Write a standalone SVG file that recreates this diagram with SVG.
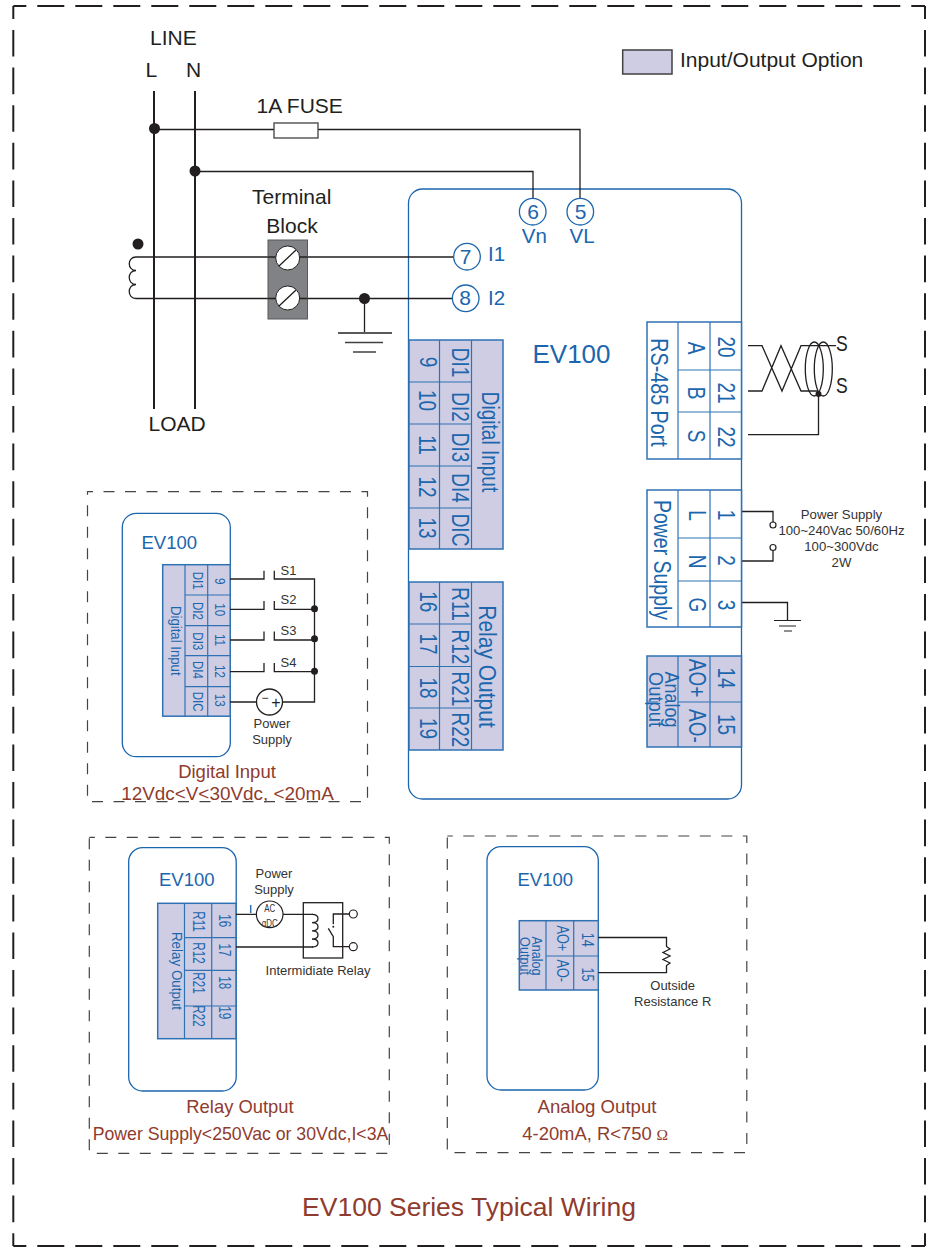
<svg xmlns="http://www.w3.org/2000/svg" width="927" height="1247" viewBox="0 0 927 1247">
<style>
text{font-family:"Liberation Sans",Arial,sans-serif}
.k{fill:#231f20}.g{fill:#333}.b{fill:#1b66ad}.r{fill:#8f3b2e}
.m{text-anchor:middle}
.w{fill:none;stroke:#231f20;stroke-width:1.3}
.t{fill:none;stroke:#231f20;stroke-width:2}
.dot{fill:#231f20}
.dash{fill:none;stroke:#444;stroke-width:1.2;stroke-dasharray:11 10.5;stroke-dashoffset:5.5}
.fh{fill:none;stroke:#231f20;stroke-width:2;stroke-dasharray:27 11;stroke-dashoffset:14}
.fv{fill:none;stroke:#231f20;stroke-width:2;stroke-dasharray:26.6 11;stroke-dashoffset:13.6}
.body{fill:#fff;stroke:#1b66ad;stroke-width:1.3}
.cell{fill:#cfcde4;stroke:#2f72b4;stroke-width:1.5}
.cw{fill:#fff;stroke:#2f72b4;stroke-width:1.5}
.grid{fill:none;stroke:#2f72b4;stroke-width:1.2}
.pin{fill:#fff;stroke:#1b66ad;stroke-width:1.3}
.f21{font-size:21px}.f19{font-size:19px}.f13{font-size:13px}.f18{font-size:18.4px}.f11{font-size:11.6px}
</style>
<rect width="927" height="1247" fill="#fff"/>
<g id="frame">
<path class="fh" d="M13.300 6H925M13.300 1246H925"/>
<path class="fv" d="M13.300 6V1246M925 6V1246"/>
</g>

<g id="legend">
<rect x="622.700" y="50" width="49.300" height="24" fill="#cfcde4" stroke="#414042" stroke-width="1.500"/>
<text x="680" y="66.700" class="k f21">Input/Output Option</text>
</g>

<g id="line-labels" class="k f21">
<text x="150" y="45">LINE</text>
<text x="145.500" y="76.700">L</text>
<text x="186" y="76.700">N</text>
<text x="256.500" y="112.700">1A FUSE</text>
<text x="291.700" y="204" class="m">Terminal</text>
<text x="292" y="232.700" class="m">Block</text>
<text x="148.500" y="430.700">LOAD</text>
</g>

<g id="main-body">
<rect x="408.500" y="189" width="333" height="610" rx="14" class="body"/>
<text x="571.500" y="362.700" class="b m" font-size="26">EV100</text>
<g class="b" font-size="20.500">
<text x="534.300" y="242.700" class="m">Vn</text>
<text x="582" y="242.700" class="m">VL</text>
<text x="488" y="261">I1</text>
<text x="488" y="305">I2</text>
</g>
</g>

<g id="connectors">
<path class="t" d="M154 91V409M195 91V409"/>
<path class="w" d="M154 129.500H580V198M195 171.500H533V198M136 257H454M136 298.500H452M364.500 298.500V333"/>
<path class="w" d="M136 257C127 257 127 270.500 136 270.500C127 270.500 127 284.500 136 284.500C127 284.500 127 298.500 136 298.500"/>
<path class="w" d="M748 345.700H762L782 391L801 345.700H836M748 391H762L781 345.700L801 391H818"/>
<path class="w" d="M818.500 394V434.700H748"/>
<path class="w" d="M741.500 511.500H773V522M741.500 561H773V551M741.500 602.500H787.500V620"/>
</g>

<g id="fuse"><rect x="274" y="123" width="44" height="15" fill="#fff" stroke="#414042" stroke-width="1.300"/></g>
<g id="junctions">
<circle cx="154.500" cy="128.500" r="5.500" class="dot"/>
<circle cx="195" cy="171" r="5.500" class="dot"/>
<circle cx="138" cy="244" r="5.500" class="dot"/>
<circle cx="364.500" cy="298.500" r="5.500" class="dot"/>
</g>

<g id="terminal-block">
<rect x="268" y="240" width="39.500" height="79" fill="#808285" stroke="#58595b" stroke-width="1"/>
<path class="w" d="M268 257H276M300 257H307.500M268 298.500H276M300 298.500H307.500"/>
<circle cx="287.700" cy="258" r="12" fill="#fff" stroke="#231f20" stroke-width="1"/>
<circle cx="287.700" cy="298" r="12" fill="#fff" stroke="#231f20" stroke-width="1"/>
<path class="w" d="M279 266L296 250M279 306L296 290"/>
</g>

<g id="ground-ct">
<path d="M338 333H392" stroke="#58595b" stroke-width="2" fill="none"/>
<path d="M345 342.500H383M353 352H376" stroke="#414042" stroke-width="1.300" fill="none"/>
</g>

<g id="pins" class="b f21">
<circle cx="532.700" cy="211.700" r="13.300" class="pin"/><text x="533" y="218.700" class="m">6</text>
<circle cx="580.300" cy="211.700" r="13.300" class="pin"/><text x="580.500" y="218.700" class="m">5</text>
<circle cx="467" cy="256.700" r="13.300" class="pin"/><text x="465.700" y="263.500" class="m">7</text>
<circle cx="465.700" cy="298.300" r="13.300" class="pin"/><text x="465" y="305" class="m">8</text>
</g>

<g id="digital-input-block">
<rect x="409" y="340" width="94" height="209" class="cell"/>
<path class="grid" d="M439.500 340V549M471.500 340V549M409 382H471.500M409 424H471.500M409 466H471.500M409 508H471.500"/>
<g class="b f19 m">
<text transform="translate(420,362) rotate(90) scale(1,1.220)">9</text>
<text transform="translate(418.500,400.500) rotate(90) scale(1,1.220)">10</text>
<text transform="translate(418.500,445) rotate(90) scale(1,1.220)">11</text>
<text transform="translate(418.500,487) rotate(90) scale(1,1.220)">12</text>
<text transform="translate(418.500,528) rotate(90) scale(1,1.220)">13</text>
<text transform="translate(451.700,362.500) rotate(90) scale(1,1.220)">DI1</text>
<text transform="translate(451.700,407) rotate(90) scale(1,1.220)">DI2</text>
<text transform="translate(451.700,447.500) rotate(90) scale(1,1.220)">DI3</text>
<text transform="translate(451.700,488) rotate(90) scale(1,1.220)">DI4</text>
<text transform="translate(451.700,530) rotate(90) scale(1,1.220)">DIC</text>
<text transform="translate(482.300,442) rotate(90) scale(1,1.220)">Digital Input</text>
</g>
</g>

<g id="relay-block">
<rect x="409" y="582" width="94" height="168" class="cell"/>
<path class="grid" d="M439.500 582V750M471.500 582V750M409 624H471.500M409 666.500H471.500M409 708H471.500"/>
<g class="b f19 m">
<text transform="translate(420,601.700) rotate(90) scale(1,1.220)">16</text>
<text transform="translate(420,644) rotate(90) scale(1,1.220)">17</text>
<text transform="translate(420,688) rotate(90) scale(1,1.220)">18</text>
<text transform="translate(420,728.500) rotate(90) scale(1,1.220)">19</text>
<text transform="translate(451.700,604) rotate(90) scale(1,1.220)">R11</text>
<text transform="translate(451.700,647) rotate(90) scale(1,1.220)">R12</text>
<text transform="translate(451.700,689) rotate(90) scale(1,1.220)">R21</text>
<text transform="translate(451.700,730) rotate(90) scale(1,1.220)">R22</text>
<text transform="translate(479.300,666.500) rotate(90) scale(1,1.150)" font-size="21">Relay Output</text>
</g>
</g>

<g id="rs485-block">
<rect x="647" y="322" width="94.500" height="137" class="cw"/>
<path class="grid" d="M678 322V459M710 322V459M678 370H741.500M678 412H741.500"/>
<g class="b f19 m">
<text transform="translate(718.300,347) rotate(90) scale(1,1.220)">20</text>
<text transform="translate(718.300,393) rotate(90) scale(1,1.220)">21</text>
<text transform="translate(718.300,437) rotate(90) scale(1,1.220)">22</text>
<text transform="translate(688.300,348) rotate(90) scale(1,1.220)">A</text>
<text transform="translate(688.300,393) rotate(90) scale(1,1.220)">B</text>
<text transform="translate(688.300,436) rotate(90) scale(1,1.220)">S</text>
<text transform="translate(650.700,392.500) rotate(90) scale(1,1.180)" font-size="19.700">RS-485 Port</text>
</g>
</g>

<g id="rs485-cable">
<ellipse cx="814.300" cy="369" rx="9" ry="27" fill="none" stroke="#231f20" stroke-width="1.300"/>
<ellipse cx="823.300" cy="369" rx="9" ry="27" fill="none" stroke="#231f20" stroke-width="1.300"/>
<circle cx="818.500" cy="394" r="3" class="dot"/>
<text transform="translate(836,350.700) scale(.78,1)" class="k" font-size="22.500">S</text>
<text transform="translate(836,393.300) scale(.78,1)" class="k" font-size="22.500">S</text>
</g>

<g id="power-block">
<rect x="647" y="490" width="94.500" height="137" class="cw"/>
<path class="grid" d="M678 490V627M710 490V627M678 538H741.500M678 581H741.500"/>
<g class="b f19 m">
<text transform="translate(718.300,515) rotate(90) scale(1,1.220)">1</text>
<text transform="translate(718.300,560.500) rotate(90) scale(1,1.220)">2</text>
<text transform="translate(718.300,605) rotate(90) scale(1,1.220)">3</text>
<text transform="translate(689,515.500) rotate(90) scale(1,1.220)">L</text>
<text transform="translate(689,561.500) rotate(90) scale(1,1.220)">N</text>
<text transform="translate(689,605) rotate(90) scale(1,1.220)">G</text>
<text transform="translate(654,560) rotate(90) scale(1,1.180)" font-size="19.500">Power Supply</text>
</g>
</g>

<g id="power-terminals">
<circle cx="773" cy="525" r="3" fill="#fff" stroke="#231f20" stroke-width="1.200"/>
<circle cx="773" cy="547.500" r="3" fill="#fff" stroke="#231f20" stroke-width="1.200"/>
<path d="M774 620.500H801M779 626H796M784 631H792" stroke="#231f20" stroke-width="1.200" fill="none"/>
<g class="g m" font-size="13.200">
<text x="841.500" y="519">Power Supply</text>
<text x="841.500" y="535">100~240Vac 50/60Hz</text>
<text x="841.500" y="551">100~300Vdc</text>
<text x="841.500" y="567">2W</text>
</g>
</g>

<g id="analog-block">
<rect x="647" y="656" width="94.500" height="91" class="cell"/>
<path class="grid" d="M678 656V747M710 656V747M678 702H741.500M647 702H658"/>
<g class="b m">
<text transform="translate(718.300,678) rotate(90) scale(1,1.220)" class="f19">14</text>
<text transform="translate(718.300,724.500) rotate(90) scale(1,1.220)" class="f19">15</text>
<text transform="translate(689.300,678) rotate(90) scale(1,1.220)" class="f19">AO+</text>
<text transform="translate(689.300,726) rotate(90) scale(1,1.220)" class="f19">AO-</text>
<text transform="translate(665,699.500) rotate(90) scale(1,1.100)" font-size="18">Analog</text>
<text transform="translate(649.300,699.500) rotate(90) scale(1,1.100)" font-size="18.500">Output</text>
</g>
</g>

<g id="digital-detail">
<rect x="87.500" y="491.700" width="280" height="310" class="dash"/>
<rect x="122.300" y="513.300" width="108" height="243.400" rx="14" class="body"/>
<text x="141.500" y="549.300" class="b" font-size="18.500">EV100</text>
<rect x="162.700" y="564.700" width="67.500" height="151.500" class="cell"/>
<path class="grid" d="M185 564.700V716.200M207.700 564.700V716.200M185 595H230M185 625.700H230M185 655.700H230M185 686.700H230"/>
<g class="b f11 m">
<text transform="translate(215,581.300) rotate(90) scale(1,1.300)">9</text>
<text transform="translate(215,609.700) rotate(90) scale(1,1.300)">10</text>
<text transform="translate(215,640) rotate(90) scale(1,1.300)">11</text>
<text transform="translate(215,671.500) rotate(90) scale(1,1.300)">12</text>
<text transform="translate(215,700.300) rotate(90) scale(1,1.300)">13</text>
<text transform="translate(193.300,580.700) rotate(90) scale(1,1.300)">DI1</text>
<text transform="translate(193.300,611) rotate(90) scale(1,1.300)">DI2</text>
<text transform="translate(193.300,641.300) rotate(90) scale(1,1.300)">DI3</text>
<text transform="translate(193.300,670) rotate(90) scale(1,1.300)">DI4</text>
<text transform="translate(193.300,701.700) rotate(90) scale(1,1.300)">DIC</text>
<text transform="translate(170.700,640.800) rotate(90) scale(1,1.100)" font-size="13.200">Digital Input</text>
</g>
<path class="w" d="M230 579H264V570.700M230 609.300H264V601M230 640H264V631.500M230 671.700H264V663M274.300 570.700V579H314.500V702H283M274.300 601V609.300H314.500M274.300 631.500V640H314.500M274.300 663V671.700H314.500M230 702H256.500"/>
<circle cx="314.500" cy="608.700" r="3.500" class="dot"/>
<circle cx="314.500" cy="638.700" r="3.500" class="dot"/>
<circle cx="314.500" cy="671.300" r="3.500" class="dot"/>
<circle cx="269.500" cy="702" r="13" fill="#fff" stroke="#231f20" stroke-width="1.300"/>
<text x="265" y="702" class="k m" font-size="12">−</text>
<text x="276" y="707.500" class="k m" font-size="16">+</text>
<g class="g f13">
<text x="280.500" y="575">S1</text>
<text x="280.500" y="604">S2</text>
<text x="280.500" y="635">S3</text>
<text x="280.500" y="667">S4</text>
<text x="272" y="728" class="m">Power</text>
<text x="272" y="744" class="m">Supply</text>
</g>
<text x="227" y="778.300" class="r m" font-size="18.500">Digital Input</text>
<text x="227.500" y="800" class="r m" font-size="18.900">12Vdc&lt;V&lt;30Vdc, &lt;20mA</text>
</g>

<g id="relay-detail">
<rect x="89.300" y="837.300" width="300" height="316" class="dash"/>
<rect x="128.700" y="847.700" width="107.500" height="243.300" rx="14" class="body"/>
<text x="159" y="886" class="b" font-size="18.500">EV100</text>
<rect x="157.700" y="903.300" width="78.300" height="135.400" class="cell"/>
<path class="grid" d="M184.500 903.300V1038.700M211.700 903.300V1038.700M184.500 937.700H236M184.500 970.300H236M184.500 1006H236"/>
<g class="b f11 m">
<text transform="translate(219.300,920.700) rotate(90) scale(1,1.350)">16</text>
<text transform="translate(219.300,950) rotate(90) scale(1,1.350)">17</text>
<text transform="translate(219.300,982.700) rotate(90) scale(1,1.350)">18</text>
<text transform="translate(219.300,1012.700) rotate(90) scale(1,1.350)">19</text>
<text transform="translate(193.300,921.500) rotate(90) scale(1,1.350)">R11</text>
<text transform="translate(193.300,953) rotate(90) scale(1,1.350)">R12</text>
<text transform="translate(193.300,983) rotate(90) scale(1,1.350)">R21</text>
<text transform="translate(193.300,1016) rotate(90) scale(1,1.350)">R22</text>
<text transform="translate(171.700,971) rotate(90) scale(1,1.050)" font-size="13.400">Relay Output</text>
</g>
<path class="w" d="M236 914.300H256M282.700 914.300H313M236 947H313"/>
<path d="M250.700 905V913" stroke="#2f72b4" stroke-width="1.500"/>
<circle cx="269.700" cy="914.300" r="13.300" fill="#fff" stroke="#231f20" stroke-width="1.200"/>
<text transform="translate(269.700,912.300) scale(.72,1)" class="g m" font-size="11">AC</text>
<text transform="translate(269.700,926.500) scale(.72,1)" class="g m" font-size="11">αDC</text>
<rect x="303.300" y="902.700" width="39.400" height="55.300" fill="none" stroke="#231f20" stroke-width="1.300"/>
<path class="w" d="M312 914.300C320 914.300 320 922.600 312 922.600C320 922.600 320 930.800 312 930.800C320 930.800 320 939 312 939C320 939 320 947 312 947"/>
<path class="w" d="M349 914H333.300V924.300M328.300 928.300L333.300 936.700V946.700H349"/>
<circle cx="333.300" cy="926.700" r="1" class="dot"/>
<circle cx="353.300" cy="914" r="4" fill="#fff" stroke="#231f20" stroke-width="1.200"/>
<circle cx="353.300" cy="946.700" r="4" fill="#fff" stroke="#231f20" stroke-width="1.200"/>
<g class="g f13 m">
<text x="274" y="878">Power</text>
<text x="274" y="894">Supply</text>
<text x="318" y="975">Intermidiate Relay</text>
</g>
<text x="240" y="1112.700" class="r m f18">Relay Output</text>
<text x="240.500" y="1140" class="r m" font-size="17.700">Power Supply&lt;250Vac or 30Vdc,I&lt;3A</text>
</g>

<g id="analog-detail">
<rect x="447.300" y="836" width="299.500" height="316.700" class="dash"/>
<rect x="487" y="846.700" width="111.300" height="243.300" rx="14" class="body"/>
<text x="517.500" y="886" class="b" font-size="18.500">EV100</text>
<rect x="519.300" y="920.700" width="79" height="69.300" class="cell"/>
<path class="grid" d="M546 920.700V990M573.700 920.700V990M546 956H598.300"/>
<g class="b m" font-size="12.600">
<text transform="translate(581.700,939.700) rotate(90) scale(1,1.300)">14</text>
<text transform="translate(581.700,974.500) rotate(90) scale(1,1.300)">15</text>
<text transform="translate(556.700,938.300) rotate(90) scale(1,1.300)">AO+</text>
<text transform="translate(556.700,970.800) rotate(90) scale(1,1.300)">AO-</text>
<text transform="translate(531.700,956) rotate(90) scale(1,1.150)">Analog</text>
<text transform="translate(520,956) rotate(90) scale(1,1.150)">Output</text>
</g>
<path class="w" d="M598.300 937.500H666.500V946.500L670 949L663 952.500L670 956L663 959.500L670 963L666.500 965.500V972.700H598.300"/>
<g class="g f13 m">
<text x="672.700" y="990">Outside</text>
<text x="672.700" y="1006">Resistance R</text>
</g>
<text x="597" y="1112.700" class="r m" font-size="18.600">Analog Output</text>
<text x="522.300" y="1140" class="r f18">4-20mA, R&lt;750</text>
<text x="656.500" y="1140" class="r" font-size="15.500" style="font-family:'Liberation Serif',serif">Ω</text>
</g>

<text id="title" x="469" y="1216" class="r m" font-size="26.500">EV100 Series Typical Wiring</text>
</svg>
